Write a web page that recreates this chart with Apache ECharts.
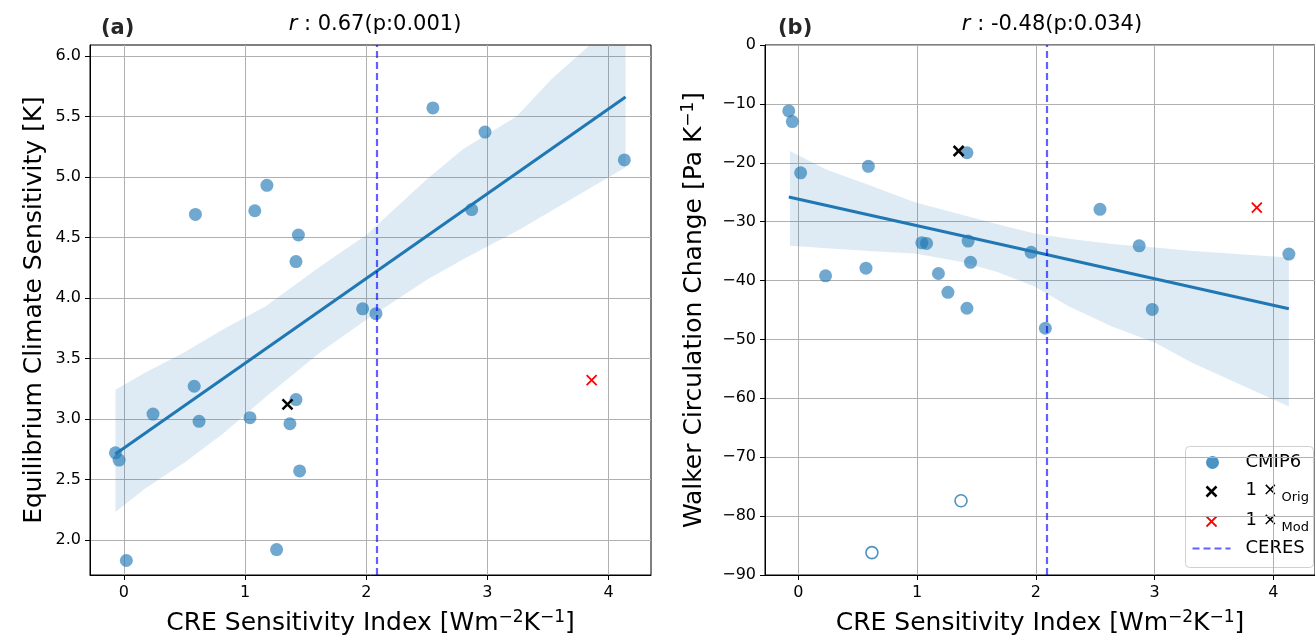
<!DOCTYPE html>
<html>
<head>
<meta charset="utf-8">
<script src="https://cdn.jsdelivr.net/npm/echarts@6/dist/echarts.min.js"></script>
<style>
  html, body { margin: 0; padding: 0; background: #fff; }
  #chart { width: 1315px; height: 643px; }
</style>
</head>
<body>
<div id="chart"></div>
<script>
// ------------------------------------------------------------
// DATA
// ------------------------------------------------------------

// panel (a): CRE sensitivity index vs ECS
const aX = [-0.07, -0.04, 0.02, 0.24, 0.58, 0.59, 0.62, 1.04, 1.08, 1.18, 1.26, 1.37, 1.42, 1.42, 1.44, 1.45, 1.97, 2.08, 2.55, 2.87, 2.98, 4.13];
const aY = [2.72, 2.66, 1.83, 3.04, 3.27, 4.69, 2.98, 3.01, 4.72, 4.93, 1.92, 2.96, 3.16, 4.30, 4.52, 2.57, 3.91, 3.87, 5.57, 4.73, 5.37, 5.14];
const aOrig = [1.35, 3.12];
const aMod = [3.86, 3.32];
const aLineX = [-0.07, 4.14];
const aLineY = [2.71, 5.66];
const aBandX = [-0.07, 0.17, 0.5, 0.82, 1.17, 1.62, 2.0, 2.5, 2.8, 3.24, 3.53, 4.14];
const aBandHi = [3.24, 3.38, 3.55, 3.74, 3.93, 4.26, 4.52, 4.98, 5.23, 5.5, 5.81, 6.35];
const aBandLo = [2.23, 2.42, 2.64, 2.88, 3.18, 3.55, 3.82, 4.15, 4.32, 4.55, 4.72, 5.08];

// panel (b): CRE sensitivity index vs Walker circulation change
const bX = [-0.08, -0.05, 0.02, 0.23, 0.57, 0.59, 1.04, 1.08, 1.18, 1.26, 1.42, 1.43, 1.45, 1.42, 1.96, 2.08, 2.54, 2.87, 2.98, 4.13];
const bY = [-11.2, -13.0, -21.7, -39.2, -37.9, -20.6, -33.6, -33.7, -38.8, -42.0, -18.3, -33.3, -36.9, -44.7, -35.2, -48.1, -27.9, -34.1, -44.9, -35.5];
const bOutX = [0.62, 1.37];
const bOutY = [-86.2, -77.4];
const bOrig = [1.35, -18.0];
const bMod = [3.86, -27.6];
const bLineX = [-0.08, 4.13];
const bLineY = [-25.8, -44.8];
const bBandX = [-0.07, 0.24, 0.6, 0.98, 1.37, 1.67, 1.99, 2.28, 2.64, 3.0, 3.32, 4.13];
const bBandHi = [-18.0, -21.2, -23.8, -26.7, -28.8, -30.4, -32.0, -32.9, -33.8, -34.4, -35.0, -36.1];
const bBandLo = [-34.1, -34.5, -35.0, -35.4, -36.8, -38.5, -41.0, -44.4, -47.8, -50.5, -54.0, -61.4];

// observed CERES value
const ceres = 2.09;

// tick labels
const xTicks = [0, 1, 2, 3, 4];
const aYTicks = [2.0, 2.5, 3.0, 3.5, 4.0, 4.5, 5.0, 5.5, 6.0];

// ------------------------------------------------------------
// HELPERS
// ------------------------------------------------------------

const FONT = 'DejaVu Sans';
const BLUE = '#1f77b4';
const CERES_COLOR = 'rgba(0,0,255,0.62)';

function zip(xs, ys) {
  return xs.map(function(x, i) { return [x, ys[i]]; });
}

function minusFmt(v, digits) {
  const s = digits ? Math.abs(v).toFixed(digits) : String(Math.abs(v));
  return v < 0 ? '\u2212' + s : s;
}

const supRich = {
  sup: { fontFamily: FONT, fontSize: 17, color: '#000', padding: [0, 0, 12, 0] }
};

function xAxisCfg(idx) {
  return {
    type: 'value', gridIndex: idx, min: -0.28, max: 4.35, splitNumber: 5,
    name: 'CRE Sensitivity Index [Wm{sup|\u22122}K{sup|\u22121}]',
    nameLocation: 'middle', nameGap: 34,
    nameTextStyle: { fontFamily: FONT, fontSize: 25, color: '#000', rich: supRich },
    axisLine: { show: true, onZero: false, lineStyle: { color: '#000', width: 1 } },
    axisTick: { show: true, length: 5, customValues: xTicks, lineStyle: { color: '#000', width: 1 } },
    axisLabel: { fontFamily: FONT, fontSize: 16, color: '#000', margin: 10, customValues: xTicks,
      formatter: function(v) { return minusFmt(v); } },
    splitLine: { show: true, lineStyle: { color: '#b0b0b0', width: 1 } }
  };
}

function crossSeries(pt, idx, color, width) {
  return {
    type: 'custom', xAxisIndex: idx, yAxisIndex: idx, z: 6,
    data: [pt],
    renderItem: function(params, api) {
      const p = api.coord([api.value(0), api.value(1)]);
      const r = 5;
      return {
        type: 'group',
        children: [
          { type: 'line', shape: { x1: p[0] - r, y1: p[1] - r, x2: p[0] + r, y2: p[1] + r }, style: { stroke: color, lineWidth: width } },
          { type: 'line', shape: { x1: p[0] - r, y1: p[1] + r, x2: p[0] + r, y2: p[1] - r }, style: { stroke: color, lineWidth: width } }
        ]
      };
    }
  };
}

function bandSeries(idx, bx, hi, lo) {
  return {
    type: 'custom', xAxisIndex: idx, yAxisIndex: idx, z: 1, clip: true, silent: true,
    data: [[bx[0], hi[0]]],
    renderItem: function(params, api) {
      const pts = [];
      for (let i = 0; i < bx.length; i++) pts.push(api.coord([bx[i], hi[i]]));
      for (let i = bx.length - 1; i >= 0; i--) pts.push(api.coord([bx[i], lo[i]]));
      return { type: 'polygon', shape: { points: pts }, style: { fill: 'rgba(31,119,180,0.15)' } };
    }
  };
}

function scatterSeries(idx, xs, ys) {
  return {
    type: 'scatter', xAxisIndex: idx, yAxisIndex: idx, z: 3,
    symbolSize: 13,
    itemStyle: { color: 'rgba(31,119,180,0.8)' },
    data: zip(xs, ys),
    markLine: {
      silent: true, symbol: 'none', animation: false,
      label: { show: false },
      lineStyle: { color: CERES_COLOR, type: [7, 4], width: 2.2 },
      data: [{ xAxis: ceres }]
    }
  };
}

function lineSeries(idx, xs, ys) {
  return {
    type: 'line', xAxisIndex: idx, yAxisIndex: idx, z: 4,
    symbol: 'none', lineStyle: { color: BLUE, width: 3 },
    data: zip(xs, ys)
  };
}

// ------------------------------------------------------------
// LEGEND (drawn inside panel b)
// ------------------------------------------------------------

const legendGraphic = {
  type: 'group', left: 1185, top: 446, z: 100,
  children: [
    { type: 'rect', shape: { x: 0, y: 0, width: 128, height: 121, r: 4 },
      style: { fill: 'rgba(255,255,255,0.8)', stroke: '#d0d0d0', lineWidth: 1 } },
    { type: 'circle', shape: { cx: 27, cy: 16, r: 6.5 }, style: { fill: 'rgba(31,119,180,0.8)' } },
    { type: 'text', style: { x: 60, y: 16, text: 'CMIP6', font: '18px "DejaVu Sans"', fill: '#000', verticalAlign: 'middle' } },
    { type: 'line', shape: { x1: 21, y1: 40, x2: 31, y2: 50 }, style: { stroke: '#000', lineWidth: 2.5 } },
    { type: 'line', shape: { x1: 21, y1: 50, x2: 31, y2: 40 }, style: { stroke: '#000', lineWidth: 2.5 } },
    { type: 'text', style: { x: 60, y: 44, text: '1 \u00d7', font: '18px "DejaVu Sans"', fill: '#000', verticalAlign: 'middle' } },
    { type: 'text', style: { x: 96, y: 51, text: 'Orig', font: '13px "DejaVu Sans"', fill: '#000', verticalAlign: 'middle' } },
    { type: 'line', shape: { x1: 21, y1: 70, x2: 31, y2: 80 }, style: { stroke: '#ff0000', lineWidth: 1.8 } },
    { type: 'line', shape: { x1: 21, y1: 80, x2: 31, y2: 70 }, style: { stroke: '#ff0000', lineWidth: 1.8 } },
    { type: 'text', style: { x: 60, y: 74, text: '1 \u00d7', font: '18px "DejaVu Sans"', fill: '#000', verticalAlign: 'middle' } },
    { type: 'text', style: { x: 96, y: 81, text: 'Mod', font: '13px "DejaVu Sans"', fill: '#000', verticalAlign: 'middle' } },
    { type: 'line', shape: { x1: 7, y1: 102, x2: 45, y2: 102 }, style: { stroke: CERES_COLOR, lineWidth: 2.2, lineDash: [7, 4] } },
    { type: 'text', style: { x: 60, y: 102, text: 'CERES', font: '18px "DejaVu Sans"', fill: '#000', verticalAlign: 'middle' } }
  ]
};

// ------------------------------------------------------------
// CHART
// ------------------------------------------------------------

const chart = echarts.init(document.getElementById('chart'), null, { renderer: 'canvas' });

const titleStyle = { fontFamily: FONT, fontSize: 21, fontWeight: 'normal', color: '#000',
  rich: { i: { fontFamily: FONT, fontSize: 21, fontStyle: 'italic', color: '#000' } } };
const tagStyle = { fontFamily: FONT, fontSize: 21, fontWeight: 'bold', color: '#262626' };

chart.setOption({
  animation: false,
  backgroundColor: '#fff',
  title: [
    { text: '(a)', left: 96, top: 13, textStyle: tagStyle },
    { text: '{i|r} : 0.67(p:0.001)', left: 370, top: 9, textAlign: 'center', textStyle: titleStyle },
    { text: '(b)', left: 773, top: 13, textStyle: tagStyle },
    { text: '{i|r} : -0.48(p:0.034)', left: 1047, top: 9, textAlign: 'center', textStyle: titleStyle }
  ],
  grid: [
    { left: 90, top: 45, width: 561, height: 530, show: true, borderColor: '#000', borderWidth: 1, backgroundColor: 'transparent' },
    { left: 765, top: 45, width: 561, height: 530, show: true, borderColor: '#000', borderWidth: 1, backgroundColor: 'transparent' }
  ],
  xAxis: [xAxisCfg(0), xAxisCfg(1)],
  yAxis: [
    {
      type: 'value', gridIndex: 0, min: 1.71, max: 6.09, splitNumber: 8,
      name: 'Equilibrium Climate Sensitivity [K]', nameLocation: 'middle', nameGap: 43,
      nameTextStyle: { fontFamily: FONT, fontSize: 25, color: '#000' },
      axisLine: { show: true, onZero: false, lineStyle: { color: '#000', width: 1 } },
      axisTick: { show: true, length: 5, customValues: aYTicks, lineStyle: { color: '#000', width: 1 } },
      axisLabel: { fontFamily: FONT, fontSize: 16, color: '#000', margin: 9, customValues: aYTicks,
        formatter: function(v) { return v.toFixed(1); } },
      splitLine: { show: true, lineStyle: { color: '#b0b0b0', width: 1 } }
    },
    {
      type: 'value', gridIndex: 1, min: -90, max: 0, interval: 10,
      name: 'Walker Circulation Change [Pa K{sup|\u22121}]', nameLocation: 'middle', nameGap: 56,
      nameTextStyle: { fontFamily: FONT, fontSize: 25, color: '#000', rich: supRich },
      axisLine: { show: true, onZero: false, lineStyle: { color: '#000', width: 1 } },
      axisTick: { show: true, length: 5, lineStyle: { color: '#000', width: 1 } },
      axisLabel: { fontFamily: FONT, fontSize: 16, color: '#000', margin: 9,
        formatter: function(v) { return minusFmt(v); } },
      splitLine: { show: true, lineStyle: { color: '#b0b0b0', width: 1 } }
    }
  ],
  graphic: [legendGraphic],
  series: [
    bandSeries(0, aBandX, aBandHi, aBandLo),
    scatterSeries(0, aX, aY),
    lineSeries(0, aLineX, aLineY),
    crossSeries(aOrig, 0, '#000', 2.5),
    crossSeries(aMod, 0, '#ff0000', 1.8),

    bandSeries(1, bBandX, bBandHi, bBandLo),
    scatterSeries(1, bX, bY),
    {
      type: 'scatter', xAxisIndex: 1, yAxisIndex: 1, z: 3,
      symbol: 'circle', symbolSize: 12,
      itemStyle: { color: '#fff', borderColor: BLUE, borderWidth: 1.6 },
      data: zip(bOutX, bOutY)
    },
    lineSeries(1, bLineX, bLineY),
    crossSeries(bOrig, 1, '#000', 2.5),
    crossSeries(bMod, 1, '#ff0000', 1.8)
  ]
});
</script>
</body>
</html>
